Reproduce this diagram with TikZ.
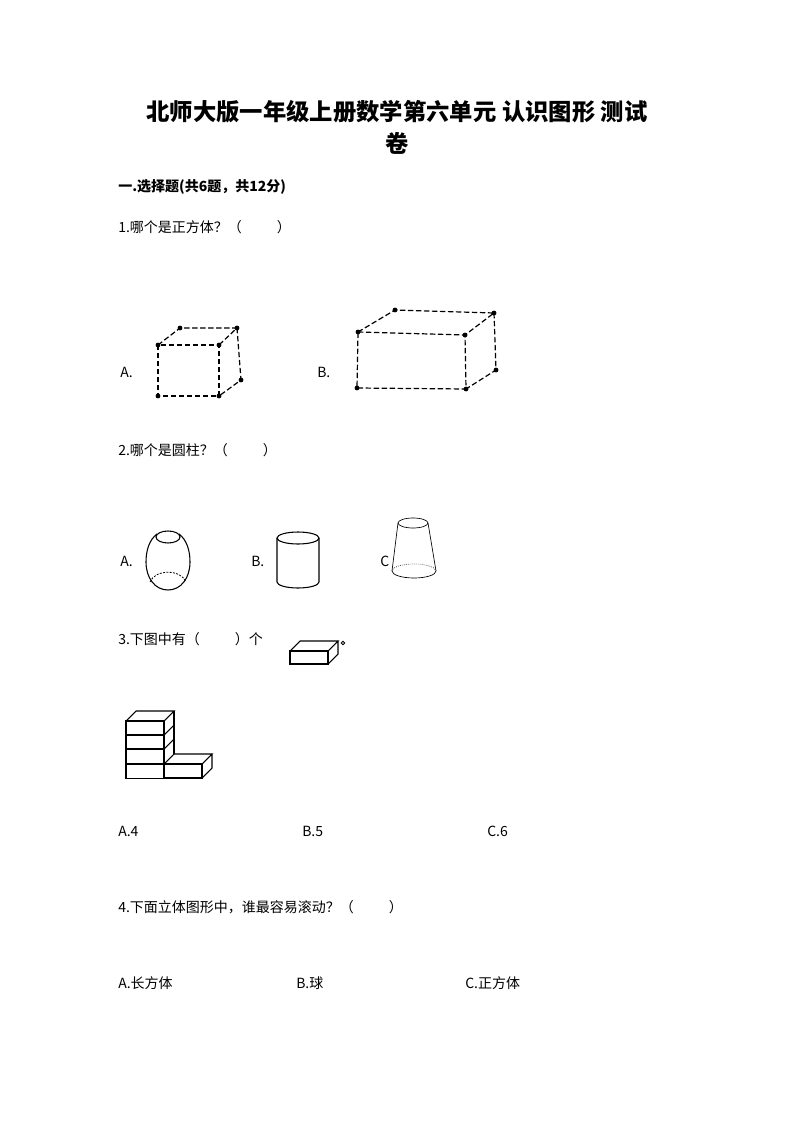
\documentclass[tikz,border=0pt]{standalone}
\usepackage{fontspec}
\setmainfont{Noto Sans CJK SC}
\begin{document}
\begin{tikzpicture}[x=0.75pt,y=-0.75pt,
  t/.style={anchor=west,inner sep=0pt,font=\fontsize{10.5pt}{12pt}\selectfont},
  dl/.style={dashed,dash pattern=on 4pt off 2pt,line width=0.9pt},
  dot/.style={circle,fill=black,inner sep=1.3pt},
  ln/.style={line width=0.8pt}]
\useasboundingbox (0,0) rectangle (794,1123);
\node[font=\fontsize{17.5pt}{20pt}\selectfont\bfseries] (title1) at (397,112) {北师大版一年级上册数学第六单元\ 认识图形\ 测试};
\node[font=\fontsize{17.5pt}{20pt}\selectfont\bfseries] (title2) at (397,143) {卷};
\node[t,font=\fontsize{10.5pt}{12pt}\selectfont\bfseries] (sec) at (118,187) {一.选择题(共6题，共12分)};
\node[t] (q1) at (118,227) {1.哪个是正方体？（\hspace{2.5em}）};
\node[t] (q1a) at (120,372) {A.};
\node[t] (q1b) at (317,372) {B.};
% cube A
\draw[dl] (158,345) rectangle (219,396);
\draw[dl] (158,345) -- (180,328) -- (237,328) -- (219,345);
\draw[dl] (237,328) -- (241,380) -- (219,396);
\foreach \p in {(158,345),(219,345),(158,396),(219,396),(180,328),(237,328),(241,380)} \node[dot] at \p {};
% box B
\draw[dl] (358,332) -- (465,335) -- (466,389) -- (357,388) -- cycle;
\draw[dl] (358,332) -- (395,310) -- (494,313) -- (465,335);
\draw[dl] (494,313) -- (496,370) -- (466,389);
\foreach \p in {(358,332),(465,335),(466,389),(357,388),(395,310),(494,313),(496,370)} \node[dot] at \p {};
\node[t] (q2) at (118,450) {2.哪个是圆柱？（\hspace{2.5em}）};
\node[t] (q2a) at (120,561) {A.};
\node[t] (q2b) at (251,561) {B.};
\node[t] (q2c) at (380,561) {C};
% barrel
\draw[ln] (168,537) ellipse (12 and 6);
\draw[ln] (157,534) .. controls (149,540) and (146,551) .. (146,562) .. controls (146,578) and (155,590) .. (168,590) .. controls (181,590) and (190,578) .. (190,562) .. controls (190,551) and (187,540) .. (179,534);
\draw[line width=0.6pt,dashed,dash pattern=on 1.5pt off 1pt] (150,582) .. controls (155,569) and (181,569) .. (186,582);
% cylinder
\draw[ln] (298,538) ellipse (21 and 6);
\draw[ln] (277,538) -- (277,582) arc (180:0:21 and 6) -- (319,538);
% frustum
\draw[line width=0.5pt] (413,523) ellipse (15 and 5);
\draw[line width=0.5pt] (398,523) -- (392,571) arc (180:0:22 and 7) -- (428,523);
\draw[line width=0.5pt,densely dotted] (392,571) arc (180:360:22 and 7);
\node[t] (q3) at (118,639) {3.下图中有（\hspace{2.5em}）个};
% brick icon
\draw[ln] (290,651) rectangle (328,664);
\draw[ln] (290,651) -- (300,641) -- (338,641) -- (328,651) (338,641) -- (338,654) -- (328,664);
\draw[line width=0.6pt] (343,643) circle (1.8);
% stack
\foreach \y in {721,735,749,764} \draw[ln] (126,\y) rectangle (164,\y+14.5);
\draw[ln] (126,721) -- (136,711) -- (174,711) -- (164,721);
\draw[ln] (174,711) -- (174,754);
\foreach \y in {735,749,764} \draw[ln] (164,\y) -- (174,\y-10);
\draw[ln] (164,764) rectangle (202,778);
\draw[ln] (174,754) -- (212,754) -- (202,764) (212,754) -- (212,768) -- (202,778);
\node[t] (a4) at (118,831) {A.4};
\node[t] (b5) at (302,831) {B.5};
\node[t] (c6) at (487,831) {C.6};
\node[t] (q4) at (118,907) {4.下面立体图形中，谁最容易滚动？（\hspace{2.5em}）};
\node[t] (q4a) at (118,983) {A.长方体};
\node[t] (q4b) at (296,983) {B.球};
\node[t] (q4c) at (465,983) {C.正方体};
\end{tikzpicture}
\end{document}
